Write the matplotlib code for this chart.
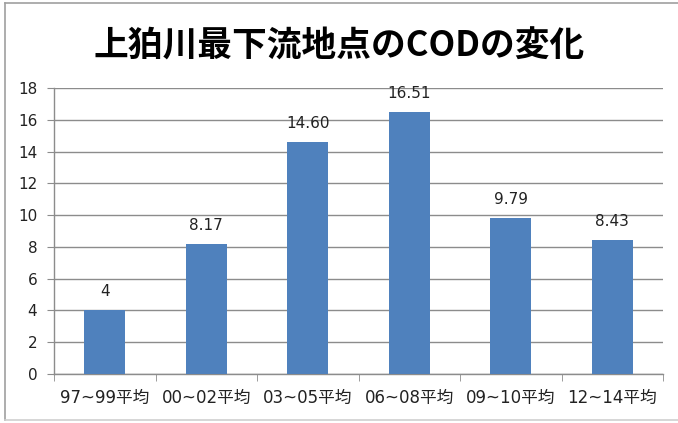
import matplotlib
matplotlib.use("Agg")
import matplotlib.pyplot as plt
from matplotlib.lines import Line2D

plt.rcParams['font.family'] = ['DejaVu Sans', 'Noto Sans CJK JP']

categories = ["97~99平均", "00~02平均", "03~05平均", "06~08平均", "09~10平均", "12~14平均"]
values = [4, 8.17, 14.60, 16.51, 9.79, 8.43]
value_labels = ["4", "8.17", "14.60", "16.51", "9.79", "8.43"]
yticks = [0, 2, 4, 6, 8, 10, 12, 14, 16, 18]
title = "上狛川最下流地点のCODの変化"

W, H = 678, 423
fig = plt.figure(figsize=(W / 100, H / 100), dpi=100)
fig.patch.set_facecolor("white")

# outer chart border (top, left, bottom)
bc = "#A0A0A0"
fig.add_artist(Line2D([5 / W, 1], [1 - 3 / H, 1 - 3 / H], transform=fig.transFigure, color=bc, lw=1.2))
fig.add_artist(Line2D([5 / W, 5 / W], [1 - 3 / H, 3 / H], transform=fig.transFigure, color=bc, lw=1.2))
fig.add_artist(Line2D([5 / W, 1], [3 / H, 3 / H], transform=fig.transFigure, color="#D0D0D0", lw=1.2))

ax = fig.add_axes([54 / W, (H - 374) / H, (663 - 54) / W, (374 - 88) / H])
x = list(range(len(categories)))
ax.bar(x, values, width=0.4, color="#4F81BD", zorder=3)
ax.set_xlim(-0.5, len(categories) - 0.5)
ax.set_ylim(0, 18)
ax.set_yticks(yticks)
ax.set_yticklabels([str(t) for t in yticks], fontsize=11, color="#222222")
ax.yaxis.grid(True, color="#8C8C8C", linewidth=1.0, zorder=0)
ax.set_xticks(x)
ax.set_xticklabels(categories, fontsize=12, color="#222222")
ax.set_xticks([i - 0.5 for i in range(len(categories) + 1)], minor=True)
ax.tick_params(axis="x", which="major", length=0, pad=11)
ax.tick_params(axis="x", which="minor", length=5, color="#8C8C8C", direction="out")
ax.tick_params(axis="y", length=5, color="#8C8C8C", direction="out", pad=7)
for s in ["top", "right"]:
    ax.spines[s].set_visible(False)
for s in ["left", "bottom"]:
    ax.spines[s].set_color("#8C8C8C")
    ax.spines[s].set_linewidth(1.0)

for xi, v, lab in zip(x, values, value_labels):
    ax.annotate(lab, (xi, v), xytext=(0, 8), textcoords="offset points",
                ha="center", va="bottom", fontsize=11, color="#222222")

fig.text(0.5, (H - 46) / H, title, ha="center", va="center", fontsize=25, fontweight="bold",
         family=['Noto Sans CJK JP', 'DejaVu Sans'])

fig.savefig("out.png", dpi=100)
